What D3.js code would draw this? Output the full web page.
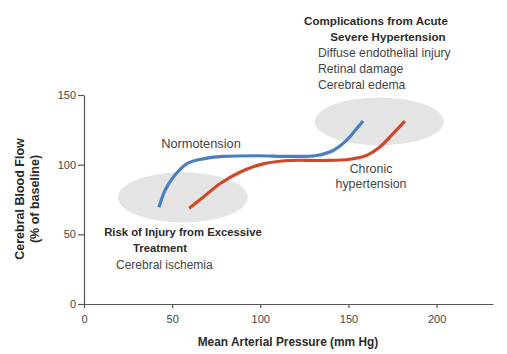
<!DOCTYPE html>
<html>
<head>
<meta charset="utf-8">
<script src="https://cdn.jsdelivr.net/npm/d3@7"></script>
<style>
  body { margin: 0; background: #fff; }
  svg { display: block; font-family: "Liberation Sans", Arial, sans-serif; }
  .axis text { font-size: 11px; fill: #444; }
  .axis path, .axis line { stroke: #555; stroke-width: 1.2; }
</style>
</head>
<body>
<div id="chart"></div>
<script>
// autoregulation curves: mean arterial pressure (mm Hg) vs cerebral blood flow (% of baseline)
const normoMAP = [42.5, 45.9, 50.6, 58.2, 67.6, 78.9, 97.9, 116.8, 131.9, 141.3, 148.9, 154.6, 158.3];
const normoCBF = [69.4, 81.4, 91.0, 100.6, 104.2, 105.9, 106.4, 105.9, 106.6, 110.2, 117.4, 125.8, 131.3];

const chronicMAP = [59.7, 67.6, 77.1, 88.4, 101.6, 116.8, 135.7, 150.8, 160.3, 167.8, 175.3, 182.0];
const chronicCBF = [68.8, 76.7, 86.3, 94.6, 100.6, 103.0, 103.0, 103.9, 106.6, 112.6, 122.2, 131.2];

// shaded risk zones: centre and radii in data units
const zoneNames = ["ischemia", "edema"];
const zoneCx = [56.1, 167.5];
const zoneCy = [76.5, 131];
const zoneRx = [36.8, 36.6];
const zoneRy = [18, 17.2];

const xTicks = [0, 50, 100, 150, 200];
const yTicks = [0, 50, 100, 150];

const W = 507, H = 354;
const margin = { left: 84, right: 14, top: 95, bottom: 50 };

const svg = d3.select("#chart").append("svg")
    .attr("width", W).attr("height", H);

const x = d3.scaleLinear().domain([0, 232]).range([margin.left, W - margin.right]);
const y = d3.scaleLinear().domain([0, 150]).range([H - margin.bottom, margin.top]);

// grey ellipses behind the curves
svg.append("g").selectAll("ellipse").data(zoneNames).join("ellipse")
    .attr("cx", (d, i) => x(zoneCx[i]))
    .attr("cy", (d, i) => y(zoneCy[i]))
    .attr("rx", (d, i) => x(zoneRx[i]) - x(0))
    .attr("ry", (d, i) => y(0) - y(zoneRy[i]))
    .attr("fill", "#e4e4e4");

// axes
svg.append("g").attr("class", "axis")
    .attr("transform", `translate(0,${y(0)})`)
    .call(d3.axisBottom(x).tickValues(xTicks).tickSize(4).tickPadding(7).tickSizeOuter(0));

svg.append("g").attr("class", "axis")
    .attr("transform", `translate(${x(0)},0)`)
    .call(d3.axisLeft(y).tickValues(yTicks).tickSize(6).tickPadding(2).tickSizeOuter(0));

// curves
const line = d3.line().x(d => x(d[0])).y(d => y(d[1])).curve(d3.curveCatmullRom.alpha(0.5));

svg.append("path")
    .datum(d3.zip(chronicMAP, chronicCBF))
    .attr("d", line)
    .attr("fill", "none").attr("stroke", "#d0482b").attr("stroke-width", 3.2);

svg.append("path")
    .datum(d3.zip(normoMAP, normoCBF))
    .attr("d", line)
    .attr("fill", "none").attr("stroke", "#4a7dc2").attr("stroke-width", 3.2);

// text helper
function label(txt, px, py, opts = {}) {
  svg.append("text")
    .attr("x", px).attr("y", py)
    .attr("text-anchor", opts.anchor || "start")
    .attr("font-size", opts.size || 12.2)
    .attr("font-weight", opts.bold ? "bold" : "normal")
    .attr("fill", opts.bold ? "#2b2b2b" : "#444")
    .text(txt);
}

label("Normotension", 201, 148, { anchor: "middle", size: 12.8 });
label("Chronic", 371, 173, { anchor: "middle", size: 12.4 });
label("hypertension", 371, 188, { anchor: "middle", size: 12.4 });

label("Risk of Injury from Excessive", 183, 236, { anchor: "middle", bold: true, size: 11.3 });
label("Treatment", 160, 252, { anchor: "middle", bold: true, size: 11.3 });
label("Cerebral ischemia", 116, 269, { size: 12 });

label("Complications from Acute", 376, 25, { anchor: "middle", bold: true, size: 11.6 });
label("Severe Hypertension", 388, 41, { anchor: "middle", bold: true, size: 11.6 });
label("Diffuse endothelial injury", 318, 57);
label("Retinal damage", 318, 73);
label("Cerebral edema", 318, 89);

// axis titles
label("Mean Arterial Pressure (mm Hg)", 288, 346, { anchor: "middle", bold: true, size: 11.9 });

const yTitle = svg.append("g").attr("transform", "translate(24,199) rotate(-90)");
yTitle.append("text").attr("text-anchor", "middle").attr("font-size", 12.5)
    .attr("font-weight", "bold").attr("fill", "#2b2b2b").text("Cerebral Blood Flow");
yTitle.append("text").attr("y", 14.5).attr("text-anchor", "middle").attr("font-size", 12.5)
    .attr("font-weight", "bold").attr("fill", "#2b2b2b").text("(% of baseline)");
</script>
</body>
</html>
